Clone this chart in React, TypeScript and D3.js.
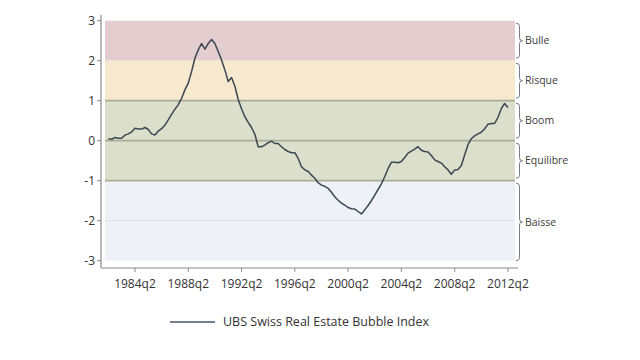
import React from "react";
import * as d3 from "d3";

// UBS Swiss Real Estate Bubble Index, quarterly from 1982q2 to 2012q2
const startYear = 1982.25;
const indexValues = [
  0.05, 0.035, 0.08, 0.06, 0.06, 0.14, 0.17, 0.22, 0.31, 0.29,
  0.29, 0.33, 0.28, 0.17, 0.14, 0.24, 0.3, 0.39, 0.52, 0.66,
  0.79, 0.9, 1.06, 1.27, 1.44, 1.73, 2.06, 2.27, 2.43, 2.29,
  2.43, 2.53, 2.43, 2.23, 2.02, 1.77, 1.48, 1.58, 1.36, 1.03,
  0.8, 0.6, 0.46, 0.33, 0.16, -0.15, -0.15, -0.11, -0.05, -0.01,
  -0.07, -0.07, -0.15, -0.22, -0.27, -0.3, -0.3, -0.44, -0.65, -0.73,
  -0.77, -0.86, -0.94, -1.05, -1.11, -1.14, -1.19, -1.29, -1.4, -1.49,
  -1.56, -1.61, -1.67, -1.7, -1.71, -1.77, -1.83, -1.73, -1.62, -1.5,
  -1.36, -1.22, -1.08, -0.9, -0.7, -0.54, -0.54, -0.55, -0.52, -0.42,
  -0.31, -0.26, -0.21, -0.15, -0.24, -0.27, -0.28, -0.37, -0.48, -0.52,
  -0.56, -0.65, -0.73, -0.84, -0.73, -0.72, -0.62, -0.36, -0.1, 0.05,
  0.12, 0.17, 0.21, 0.3, 0.41, 0.43, 0.43, 0.58, 0.8, 0.93,
  0.83,
];

const xTickYears = [1984, 1988, 1992, 1996, 2000, 2004, 2008, 2012];
const yTicks = [3, 2, 1, 0, -1, -2, -3];

const zones = [
  { name: "Bulle", from: 2, to: 3, color: "#e3cdcf" },
  { name: "Risque", from: 1, to: 2, color: "#f6e9cd" },
  { name: "Boom", from: 0, to: 1, color: "#dbdfcb" },
  { name: "Equilibre", from: -1, to: 0, color: "#dbdfcb" },
  { name: "Baisse", from: -3, to: -1, color: "#eef1f5" },
];

const legendLabel = "UBS Swiss Real Estate Bubble Index";

export default function App() {
  const width = 640;
  const height = 360;
  const left = 105;
  const right = 515;
  const top = 20.7;
  const bottom = 260.7;
  const axisX = 101;
  const axisY = 268;
  const font = "'Open Sans', sans-serif";

  const data = indexValues.map((v, i) => ({ t: startYear + i * 0.25, v }));

  const x = d3.scaleLinear().domain([1982.0, 2012.78]).range([left, right]);
  const y = d3.scaleLinear().domain([-3, 3]).range([bottom, top]);

  const line = d3
    .line<{ t: number; v: number }>()
    .x((d) => x(d.t))
    .y((d) => y(d.v));

  // curly brace on the right side of each zone
  const brace = (y0: number, y1: number) => {
    const x0 = right + 1;
    const xm = x0 + 3.5;
    const ym = (y0 + y1) / 2;
    return (
      `M${x0},${y0} Q${xm},${y0} ${xm},${y0 + 3} L${xm},${ym - 3} ` +
      `Q${xm},${ym} ${xm + 3},${ym} Q${xm},${ym} ${xm},${ym + 3} ` +
      `L${xm},${y1 - 3} Q${xm},${y1} ${x0},${y1}`
    );
  };

  return (
    <svg width={width} height={height} style={{ display: "block", position: "absolute", left: 0, top: 0 }}>
      <rect width={width} height={height} fill="#ffffff" />

      {zones.map((z) => (
        <rect
          key={z.name}
          x={left}
          y={y(z.to)}
          width={right - left}
          height={y(z.from) - y(z.to)}
          fill={z.color}
        />
      ))}

      {/* reference lines */}
      <line x1={left} x2={right} y1={y(-2)} y2={y(-2)} stroke="#dfe2e6" strokeWidth={1.2} />
      {[1, 0, -1].map((v) => (
        <line key={v} x1={left} x2={right} y1={y(v)} y2={y(v)} stroke="#a9ae98" strokeWidth={1.8} />
      ))}

      {/* braces and zone labels */}
      {zones.map((z) => {
        const y0 = y(z.to) + 2.5;
        const y1 = z.from === -3 ? y(z.from) : y(z.from) - 2.5;
        return (
          <g key={"b" + z.name}>
            <path d={brace(y0, y1)} fill="none" stroke="#777d86" strokeWidth={1} />
            <text x={right + 10} y={(y0 + y1) / 2} dy="0.35em" fontFamily={font} fontSize={10.5} fill="#3c3c3c">
              {z.name}
            </text>
          </g>
        );
      })}

      {/* index line */}
      <path d={line(data) ?? ""} fill="none" stroke="#3a4855" strokeWidth={1.5} strokeLinejoin="round" />

      {/* y axis */}
      <line x1={axisX} x2={axisX} y1={15} y2={axisY} stroke="#8c8c8c" strokeWidth={1.2} />
      {yTicks.map((v) => (
        <g key={v}>
          <line x1={axisX - 4} x2={axisX} y1={y(v)} y2={y(v)} stroke="#8c8c8c" />
          <text x={axisX - 6} y={y(v)} dy="0.35em" textAnchor="end" fontFamily={font} fontSize={12} fill="#333">
            {v}
          </text>
        </g>
      ))}

      {/* x axis */}
      <line x1={axisX} x2={518} y1={axisY} y2={axisY} stroke="#8c8c8c" strokeWidth={1.2} />
      {xTickYears.map((yr) => {
        const t = yr + 0.25;
        return (
          <g key={yr}>
            <line x1={x(t)} x2={x(t)} y1={axisY} y2={axisY + 4} stroke="#8c8c8c" />
            <text x={x(t)} y={288} textAnchor="middle" fontFamily={font} fontSize={12} fill="#333">
              {yr + "q2"}
            </text>
          </g>
        );
      })}

      {/* legend */}
      <line x1={170} x2={215} y1={322} y2={322} stroke="#4a5866" strokeWidth={1.4} />
      <text x={223} y={322} dy="0.35em" fontFamily={font} fontSize={12.5} fill="#333">
        {legendLabel}
      </text>
    </svg>
  );
}
